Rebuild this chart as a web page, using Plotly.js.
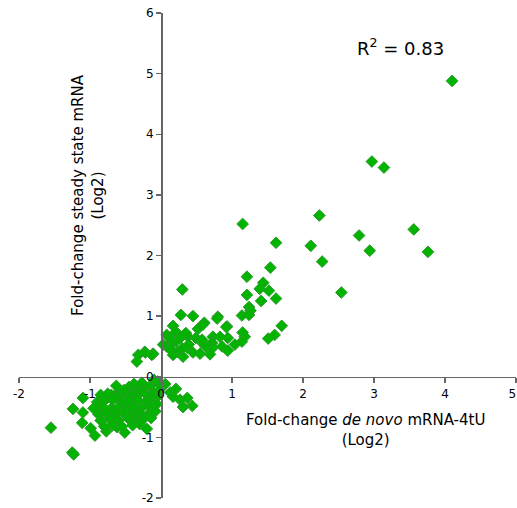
<!DOCTYPE html>
<html>
<head>
<meta charset="utf-8">
<script src="https://cdn.plot.ly/plotly-3.0.1.min.js"></script>
<style>html,body{margin:0;padding:0;background:#fff;}#chart{width:517px;height:508px;}</style>
</head>
<body>
<div id="chart"></div>
<script>
// Fold-change de novo mRNA-4tU (Log2)
var xValues = [
  4.10, 2.97, 3.14, 2.23, 1.15, 3.56, 1.62, 2.11, 2.79, 2.94, 3.76, 2.27, 1.54, 1.21, 2.54,
  1.44, 1.39, 1.52, 1.21, 1.41, 1.62, 1.24, 1.26, 1.14, 1.24, 0.93, 1.70, 1.60, 1.15, 1.18, 1.51,
  0.30, 0.28, 0.45, 0.80, 0.79, 0.92, 0.17, 0.61, 0.59, 0.21, 0.08, 0.38, 0.52, 0.73, 0.94,
  1.04, 1.14, 0.08, 0.17, 0.23, 0.37, 0.45, 0.58, 0.72, 0.73, 0.86, 0.69, 0.94, 0.31, 0.17,
  0.03, 0.12, 0.22, 0.30, 0.39, 0.55, 0.27, 0.49, 0.63, 0.83, 0.58, 0.35, 0.13,
  -0.23, -0.11, -0.32, -0.22, -0.13, -0.34,
  -1.55, -1.25, -1.23, -1.24, -1.10, -1.10, -1.11, -0.93, -0.51, -0.99, -0.77, -0.62,
  0.13, 0.17, 0.27, 0.37, 0.44, 0.31, 0.06, 0.21,
  -0.45, -0.35, -0.25, -0.15, -0.05, -0.60, -0.70, -0.10, -0.02,
  -0.85, -0.75, -0.62, -0.50, -0.40, -0.30, -0.20, -0.10, -0.02,
  -0.90, -0.80, -0.68, -0.55, -0.45, -0.33, -0.22, -0.12, -0.05,
  -0.95, -0.82, -0.70, -0.60, -0.48, -0.38, -0.28, -0.15, -0.06,
  -0.88, -0.78, -0.65, -0.52, -0.42, -0.30, -0.18, -0.08,
  -0.85, -0.72, -0.60, -0.45, -0.35, -0.25, -0.14,
  -0.80, -0.68, -0.55, -0.40, -0.30,
  -0.63, -0.52, -0.38, -0.27, -0.20
];
// Fold-change steady state mRNA (Log2)
var yValues = [
  4.88, 3.55, 3.45, 2.66, 2.52, 2.43, 2.21, 2.16, 2.33, 2.08, 2.06, 1.90, 1.80, 1.65, 1.39,
  1.55, 1.45, 1.42, 1.35, 1.25, 1.29, 1.15, 1.09, 1.01, 1.02, 0.83, 0.84, 0.69, 0.73, 0.66, 0.63,
  1.44, 1.02, 1.00, 0.99, 0.96, 0.82, 0.84, 0.89, 0.86, 0.74, 0.69, 0.66, 0.79, 0.66, 0.64,
  0.53, 0.58, 0.50, 0.56, 0.41, 0.48, 0.40, 0.56, 0.56, 0.48, 0.50, 0.37, 0.43, 0.33, 0.36,
  0.53, 0.64, 0.59, 0.47, 0.53, 0.38, 0.64, 0.64, 0.50, 0.66, 0.61, 0.72, 0.45,
  0.41, 0.38, 0.36, 0.40, 0.36, 0.25,
  -0.84, -1.25, -1.28, -0.53, -0.35, -0.59, -0.76, -0.97, -0.92, -0.85, -0.90, -0.83,
  -0.26, -0.33, -0.38, -0.35, -0.48, -0.50, -0.12, -0.20,
  -0.17, -0.20, -0.18, -0.15, -0.08, -0.25, -0.30, -0.05, -0.12,
  -0.30, -0.28, -0.32, -0.28, -0.30, -0.27, -0.30, -0.26, -0.22,
  -0.42, -0.40, -0.38, -0.42, -0.40, -0.38, -0.42, -0.38, -0.33,
  -0.52, -0.50, -0.52, -0.50, -0.52, -0.50, -0.52, -0.50, -0.45,
  -0.62, -0.60, -0.62, -0.60, -0.63, -0.60, -0.62, -0.57,
  -0.72, -0.70, -0.72, -0.70, -0.72, -0.70, -0.68,
  -0.82, -0.80, -0.82, -0.80, -0.78,
  -0.15, -0.22, -0.12, -0.10, -0.86
];
var xTickVals = [-2, -1, 0, 1, 2, 3, 4, 5];
var xTickText = ['-2', '-1', '0', '1', '2', '3', '4', '5\u00a0\u00a0'];
var yTickVals = [-2, -1, 0, 1, 2, 3, 4, 5, 6];
var yTickText = ['-2', '-1', '0', '1', '2', '3', '4', '5', '6'];
var xTitleText = 'Fold-change <i>de novo</i> mRNA-4tU<br>(Log2)';
var yTitleText = 'Fold-change steady state mRNA<br>(Log2)';
var r2Text = 'R<sup>2</sup> = 0.83';

var font = 'DejaVu Sans, Verdana, sans-serif';
var trace = {
  x: xValues, y: yValues, type: 'scatter', mode: 'markers',
  marker: {symbol: 'diamond', size: 9, color: '#00b400', line: {color: '#2f9a2f', width: 1}},
  hoverinfo: 'skip'
};
var axisCommon = {
  showgrid: false, zeroline: false, showline: true, linecolor: '#666666', linewidth: 1.5,
  ticks: 'outside', ticklen: 5, tickwidth: 1.5, tickcolor: '#666666',
  tickfont: {family: font, size: 12, color: '#000'}, anchor: 'free', fixedrange: true,
  ticklabeloverflow: 'allow'
};
var layout = {
  width: 517, height: 508,
  margin: {l: 19, r: 1, t: 13, b: 10},
  paper_bgcolor: '#fff', plot_bgcolor: '#fff',
  showlegend: false,
  xaxis: Object.assign({}, axisCommon, {range: [-2, 5], tickvals: xTickVals, ticktext: xTickText, position: 0.25}),
  yaxis: Object.assign({}, axisCommon, {range: [-2, 6], tickvals: yTickVals, ticktext: yTickText, position: 2/7}),
  annotations: [
    {text: xTitleText, xref: 'paper', yref: 'paper', x: 0.698, y: 0.14, xanchor: 'center', yanchor: 'middle',
     showarrow: false, font: {family: font, size: 15, color: '#000'}, align: 'center'},
    {text: yTitleText, xref: 'paper', yref: 'paper', x: 0.139, y: 0.625, xanchor: 'center', yanchor: 'middle',
     showarrow: false, textangle: -90, font: {family: font, size: 15, color: '#000'}, align: 'center'},
    {text: r2Text, xref: 'paper', yref: 'paper', x: 0.767, y: 0.93, xanchor: 'center', yanchor: 'middle',
     showarrow: false, font: {family: font, size: 18, color: '#000'}}
  ]
};
Plotly.newPlot('chart', [trace], layout, {displayModeBar: false, staticPlot: true});
</script>
</body>
</html>
